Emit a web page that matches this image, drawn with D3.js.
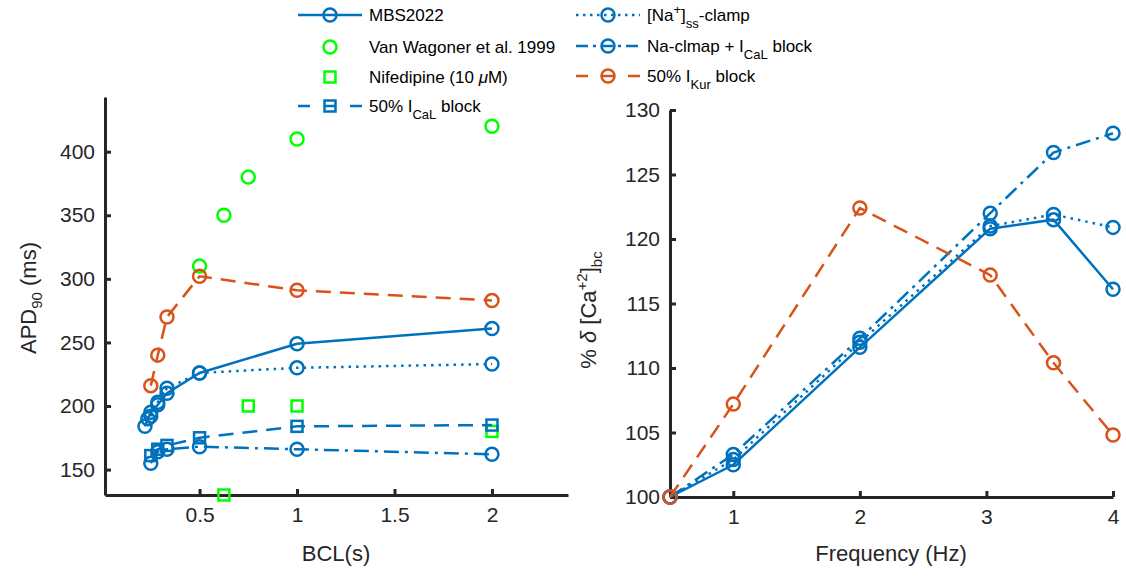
<!DOCTYPE html>
<html>
<head>
<meta charset="utf-8">
<script src="https://cdn.jsdelivr.net/npm/d3@7"></script>
<style>
  body { margin: 0; background: #fff; }
  svg { font-family: "Liberation Sans", Arial, sans-serif; }
  .axis text { fill: #262626; font-size: 21px; }
  .axis path, .axis line { stroke: #262626; }
</style>
</head>
<body>
<div id="chart"></div>
<script>
// left panel: BCL (s) vs APD90 (ms)
var bclModel = [0.22, 0.235, 0.25, 0.2857, 0.333, 0.5, 1, 2];
var apdModel = [184, 190, 195, 201, 210, 226, 249, 261];
var bclSim = [0.25, 0.2857, 0.333, 0.5, 1, 2];
var apdNaClamp = [192, 203, 214, 226, 230, 233];
var apdCaLBlock = [161, 166, 169, 175, 184, 185];
var apdNaCaL = [155, 164, 166, 168, 166, 162];
var apdKur = [216, 240, 270, 302, 291, 283];
var bclWagoner = [0.5, 0.625, 0.75, 1, 2];
var apdWagoner = [310, 350, 380, 410, 420];
var bclNife = [0.625, 0.75, 1, 2];
var apdNife = [130, 200, 200, 180];

// right panel: frequency (Hz) vs % delta [Ca]bc
var freq = [0.5, 1, 2, 3.03, 3.53, 4];
var caModel = [100, 102.5, 111.6, 120.8, 121.5, 116.1];
var caNaClamp = [100, 102.9, 112.0, 121.0, 121.9, 120.9];
var caNaCaL = [100, 103.3, 112.3, 122.0, 126.7, 128.2];
var caKur = [100, 107.2, 122.4, 117.2, 110.4, 104.8];

var leftTicksX = [0.5, 1, 1.5, 2];
var leftTicksY = [150, 200, 250, 300, 350, 400];
var rightTicksX = [1, 2, 3, 4];
var rightTicksY = [100, 105, 110, 115, 120, 125, 130];

var blue = "#0072BD", orange = "#D95319", green = "#00FF00";
var dashes = { solid: null, dotted: "2.5,5", dashed: "15,9", dashdot: "15,6,3,6" };
// legend samples are short, so they get their own patterns
var legendDashes = { solid: null, dotted: "2.5,4.5", dashed: "12,14", dashdot: "12,5,3,5" };

var svgWidth = 1126;
var svgHeight = 577;

var svg = d3.select("#chart")
    .append("svg")
    .attr("width", svgWidth)
    .attr("height", svgHeight);

var xLeft = d3.scaleLinear().domain([0.015, 2.39]).range([105, 568]);
var yLeft = d3.scaleLinear().domain([130, 443]).range([495, 97]);
var xRight = d3.scaleLinear().domain([0.5, 4]).range([670, 1113]);
var yRight = d3.scaleLinear().domain([100, 130]).range([497, 110]);

function drawAxes(x, y, xTicks, yTicks, x0, y0) {
    var bottom = d3.axisBottom(x).tickValues(xTicks).tickFormat(d3.format("")).tickSizeInner(-6).tickSizeOuter(0).tickPadding(12);
    var left = d3.axisLeft(y).tickValues(yTicks).tickFormat(d3.format("")).tickSizeInner(-6).tickSizeOuter(0).tickPadding(10);
    var gx = svg.append("g").attr("class", "axis")
        .attr("transform", `translate(0, ${y0})`).call(bottom);
    var gy = svg.append("g").attr("class", "axis")
        .attr("transform", `translate(${x0}, 0)`).call(left);
    [gx, gy].forEach(function(g) {
        g.select(".domain").attr("stroke-width", 3);
        g.selectAll(".tick line").attr("stroke-width", 3);
    });
}

drawAxes(xLeft, yLeft, leftTicksX, leftTicksY, 105, 495);
drawAxes(xRight, yRight, rightTicksX, rightTicksY, 670, 497);

function drawMarker(g, px, py, shape, color) {
    if (shape === "circle") {
        g.append("circle").attr("cx", px).attr("cy", py).attr("r", 6.5)
            .attr("fill", "none").attr("stroke", color).attr("stroke-width", 2.5);
    } else if (shape === "square") {
        g.append("rect").attr("x", px - 5.5).attr("y", py - 5.5)
            .attr("width", 11).attr("height", 11)
            .attr("fill", "none").attr("stroke", color).attr("stroke-width", 2.5);
    }
}

function drawSeries(xs, ys, x, y, color, style, shape) {
    var pts = xs.map((d, i) => [x(d), y(ys[i])]);
    var g = svg.append("g");
    if (style) {
        g.append("path")
            .attr("d", d3.line()(pts))
            .attr("fill", "none")
            .attr("stroke", color)
            .attr("stroke-width", 2.5)
            .attr("stroke-dasharray", dashes[style]);
    }
    pts.forEach(p => drawMarker(g, p[0], p[1], shape, color));
}

// left panel
drawSeries(bclModel, apdModel, xLeft, yLeft, blue, "solid", "circle");
drawSeries(bclWagoner, apdWagoner, xLeft, yLeft, green, null, "circle");
drawSeries(bclNife, apdNife, xLeft, yLeft, green, null, "square");
drawSeries(bclSim, apdCaLBlock, xLeft, yLeft, blue, "dashed", "square");
drawSeries(bclSim, apdNaClamp, xLeft, yLeft, blue, "dotted", "circle");
drawSeries(bclSim, apdNaCaL, xLeft, yLeft, blue, "dashdot", "circle");
drawSeries(bclSim, apdKur, xLeft, yLeft, orange, "dashed", "circle");

// right panel
drawSeries(freq, caModel, xRight, yRight, blue, "solid", "circle");
drawSeries(freq, caNaClamp, xRight, yRight, blue, "dotted", "circle");
drawSeries(freq, caNaCaL, xRight, yRight, blue, "dashdot", "circle");
drawSeries(freq, caKur, xRight, yRight, orange, "dashed", "circle");

// axis labels
var labelStyle = function(t) { return t.attr("fill", "#262626").attr("font-size", 22).attr("text-anchor", "middle"); };

labelStyle(svg.append("text").attr("x", 336).attr("y", 561)).text("BCL(s)");
labelStyle(svg.append("text").attr("x", 891).attr("y", 561)).text("Frequency (Hz)");

var yl = labelStyle(svg.append("text").attr("transform", "translate(36, 298) rotate(-90)"));
yl.append("tspan").text("APD");
yl.append("tspan").attr("font-size", 15).attr("dy", 6).text("90");
yl.append("tspan").attr("dy", -6).text(" (ms)");

var yr = labelStyle(svg.append("text").attr("transform", "translate(596, 310) rotate(-90)"));
yr.append("tspan").text("% ");
yr.append("tspan").attr("font-style", "italic").text("δ");
yr.append("tspan").text(" [Ca");
yr.append("tspan").attr("font-size", 15).attr("dy", -9).text("+2");
yr.append("tspan").attr("dy", 9).text("]");
yr.append("tspan").attr("font-size", 15).attr("dy", 6).text("bc");

// legend
var legendItems = [
    { col: 0, y: 15, color: blue, style: "solid", shape: "circle", text: [["MBS2022"]] },
    { col: 0, y: 47, color: green, style: null, shape: "circle", text: [["Van Wagoner et al. 1999"]] },
    { col: 0, y: 77, color: green, style: null, shape: "square", text: [["Nifedipine (10 "], ["μ", "it"], ["M)"]] },
    { col: 0, y: 106, color: blue, style: "dashed", shape: "square", text: [["50% I"], ["CaL", "sub"], [" block", "base"]] },
    { col: 1, y: 15, color: blue, style: "dotted", shape: "circle", text: [["[Na"], ["+", "sup"], ["]", "base2"], ["ss", "sub"], ["-clamp", "base"]] },
    { col: 1, y: 46, color: blue, style: "dashdot", shape: "circle", text: [["Na-clmap + I"], ["CaL", "sub"], [" block", "base"]] },
    { col: 1, y: 76, color: orange, style: "dashed", shape: "circle", text: [["50% I"], ["Kur", "sub"], [" block", "base"]] }
];
var legendCols = [{ x1: 298, x2: 362, tx: 369 }, { x1: 576, x2: 640, tx: 647 }];

legendItems.forEach(function(item) {
    var c = legendCols[item.col];
    var g = svg.append("g");
    if (item.style) {
        g.append("line")
            .attr("x1", c.x1).attr("x2", c.x2)
            .attr("y1", item.y).attr("y2", item.y)
            .attr("stroke", item.color).attr("stroke-width", 2.5)
            .attr("stroke-dasharray", legendDashes[item.style]);
    }
    drawMarker(g, (c.x1 + c.x2) / 2, item.y, item.shape, item.color);
    var t = g.append("text").attr("x", c.tx).attr("y", item.y + 6)
        .attr("font-size", 17).attr("fill", "#000");
    item.text.forEach(function(part) {
        var s = t.append("tspan").text(part[0]);
        if (part[1] === "sub") s.attr("font-size", 13).attr("dy", 7);
        else if (part[1] === "sup") s.attr("font-size", 13).attr("dy", -7);
        else if (part[1] === "base") s.attr("dy", -7);
        else if (part[1] === "base2") s.attr("dy", 7);
        else if (part[1] === "it") s.attr("font-style", "italic");
    });
});
</script>
</body>
</html>
